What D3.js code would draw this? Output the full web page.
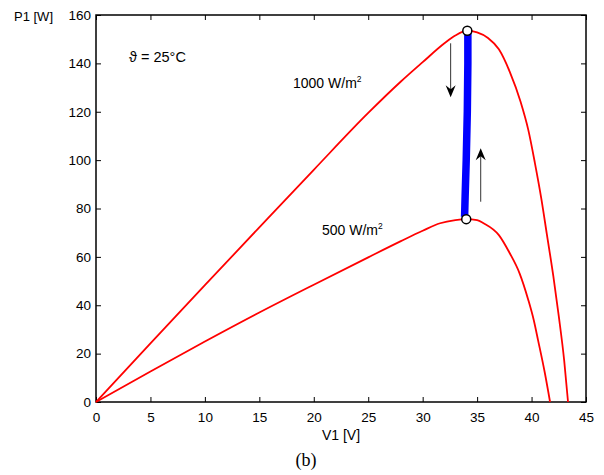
<!DOCTYPE html>
<html>
<head>
<meta charset="utf-8">
<script src="https://cdn.jsdelivr.net/npm/d3@7"></script>
<style>
  html, body { margin: 0; padding: 0; background: #fff; }
  svg { display: block; }
  text { font-family: "Liberation Sans", Arial, Helvetica, sans-serif; fill: #000; }
</style>
</head>
<body>
<svg id="chart" width="604" height="475"></svg>
<script>
// P–V characteristic of the PV module at two irradiance levels (module temperature 25 °C)
const v1000 = [0, 5, 10, 15, 20, 25, 28, 30, 32, 33, 34.1, 35, 36, 37, 38, 39, 39.7, 40.3, 40.9, 41.4, 42.0, 42.5, 43.0, 43.35];
const p1000 = [0, 24.2, 48.3, 72.2, 96, 119.5, 132.5, 140.5, 148.3, 151.5, 153.5, 152.8, 150.5, 145.8, 136.5, 124, 112.5, 99, 84, 69.5, 52, 35.5, 17, 0];

const v500 = [0, 5, 10, 15, 20, 25, 28, 30, 31.6, 33, 34.0, 35, 35.6, 37, 38, 38.9, 39.7, 40.2, 40.6, 41.2, 41.7];
const p500 = [0, 12.6, 25, 37, 48.5, 59.8, 66.5, 70.8, 73.9, 75.2, 75.6, 75.2, 73.9, 69, 61.5, 53.2, 42.2, 33.9, 25.5, 12.5, 0];

// Operating point trajectory of the tracker when irradiance steps between the two levels
const trackV = [34.15, 34.15, 34.1, 34.0, 33.9, 33.85];
const trackP = [153.2, 140, 120, 100, 85, 76.5];

// Maximum power points
const mppV = [34.1, 34.0];
const mppP = [153.5, 75.6];

// Direction arrows: V position, P start, P end
const arrowV = [32.57, 35.33];
const arrowFrom = [148.3, 82.8];
const arrowTo = [126.0, 104.9];

const xTicks = [0, 5, 10, 15, 20, 25, 30, 35, 40, 45];
const yTicks = [0, 20, 40, 60, 80, 100, 120, 140, 160];

const svg = d3.select("#chart");
const plotL = 96, plotR = 586, plotT = 15, plotB = 402;

const x = d3.scaleLinear().domain([0, 45]).range([plotL, plotR]);
const y = d3.scaleLinear().domain([0, 160]).range([plotB, plotT]);

const tickLen = 5;

// axes with inward ticks on all four sides (box style)
svg.append("g").attr("transform", `translate(0,${plotB})`)
  .call(d3.axisBottom(x).tickValues(xTicks).tickSizeInner(-tickLen).tickSizeOuter(0).tickPadding(10));
svg.append("g").attr("transform", `translate(${plotL},0)`)
  .call(d3.axisLeft(y).tickValues(yTicks).tickSizeInner(-tickLen).tickSizeOuter(0).tickPadding(5));
svg.append("g").attr("transform", `translate(0,${plotT})`)
  .call(d3.axisTop(x).tickValues(xTicks).tickSizeInner(-tickLen).tickSizeOuter(0).tickFormat(""));
svg.append("g").attr("transform", `translate(${plotR},0)`)
  .call(d3.axisRight(y).tickValues(yTicks).tickSizeInner(-tickLen).tickSizeOuter(0).tickFormat(""));

svg.selectAll(".domain").remove();
svg.selectAll(".tick line").attr("stroke", "#000").attr("stroke-width", 1);
svg.selectAll(".tick text").attr("fill", "#000").attr("font-size", 13.5)
  .attr("font-family", "Liberation Sans, Arial, sans-serif");

svg.append("rect")
  .attr("x", plotL).attr("y", plotT)
  .attr("width", plotR - plotL).attr("height", plotB - plotT)
  .attr("fill", "none").attr("stroke", "#000").attr("stroke-width", 1.5);

// curves
const line = d3.line().x(d => x(d[0])).y(d => y(d[1])).curve(d3.curveMonotoneX);
const curves = [d3.zip(v1000, p1000), d3.zip(v500, p500)];
svg.append("g").selectAll("path").data(curves).join("path")
  .attr("d", line)
  .attr("fill", "none").attr("stroke", "#ff0000").attr("stroke-width", 1.8)
  .attr("stroke-linejoin", "round");

// tracker trajectory
svg.append("path")
  .attr("d", d3.line().x(d => x(d[0])).y(d => y(d[1]))(d3.zip(trackV, trackP)))
  .attr("fill", "none").attr("stroke", "#0000ff").attr("stroke-width", 7.5);

// maximum power point markers
svg.append("g").selectAll("circle").data(d3.zip(mppV, mppP)).join("circle")
  .attr("cx", d => x(d[0])).attr("cy", d => y(d[1])).attr("r", 4.5)
  .attr("fill", "#fff").attr("stroke", "#000").attr("stroke-width", 1.5);

// arrows
const ag = svg.append("g");
d3.zip(arrowV, arrowFrom, arrowTo).forEach(([v, p0, p1]) => {
  const xa = x(v), y0 = y(p0), y1 = y(p1);
  const dir = Math.sign(y1 - y0);
  ag.append("line").attr("x1", xa).attr("y1", y0).attr("x2", xa).attr("y2", y1 - dir * 6)
    .attr("stroke", "#333").attr("stroke-width", 1);
  const hl = 12, hw = 5, notch = 4;
  ag.append("path")
    .attr("d", `M${xa},${y1} L${xa - hw},${y1 - dir * hl} L${xa},${y1 - dir * (hl - notch)} L${xa + hw},${y1 - dir * hl} Z`)
    .attr("fill", "#000");
});

// annotations
svg.append("text").attr("x", 14).attr("y", 21).attr("font-size", 13).text("P1 [W]");
svg.append("text").attr("x", (plotL + plotR) / 2).attr("y", 440).attr("font-size", 14)
  .attr("text-anchor", "middle").text("V1 [V]");
svg.append("text").attr("x", 306).attr("y", 466).attr("font-size", 18)
  .attr("text-anchor", "middle").style("font-family", "Liberation Serif, Times New Roman, serif").text("(b)");
svg.append("text").attr("x", 129).attr("y", 62).attr("font-size", 14.5).text("ϑ = 25°C");

const irr = svg.append("text").attr("x", 293).attr("y", 88).attr("font-size", 14);
irr.append("tspan").text("1000 W/m");
irr.append("tspan").attr("dy", -6).attr("font-size", 8.5).text("2");

const irr2 = svg.append("text").attr("x", 322).attr("y", 235).attr("font-size", 14);
irr2.append("tspan").text("500 W/m");
irr2.append("tspan").attr("dy", -6).attr("font-size", 8.5).text("2");
</script>
</body>
</html>
